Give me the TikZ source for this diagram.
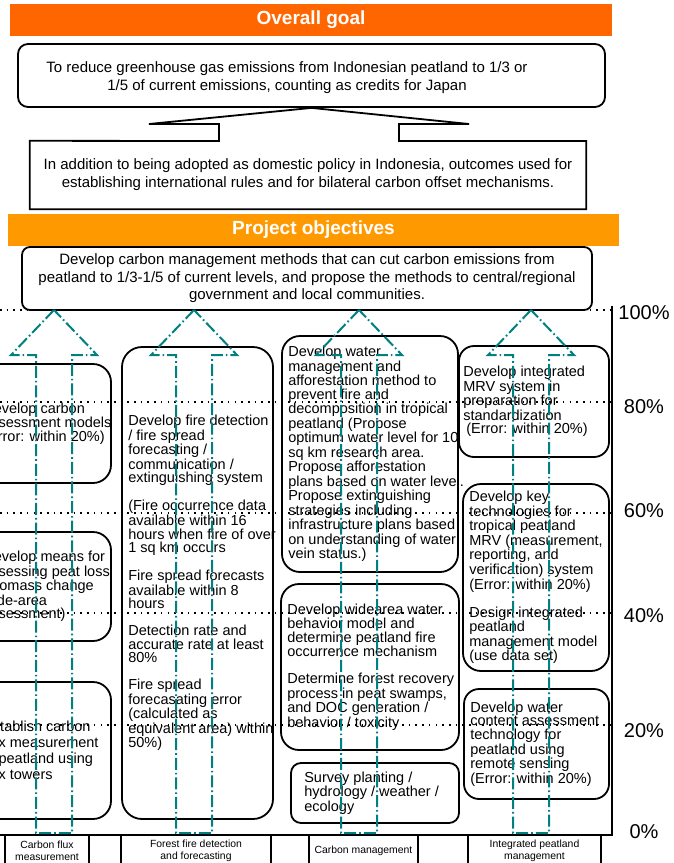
\documentclass[tikz,border=0pt]{standalone}
\usepackage{fontspec}
\setmainfont{Liberation Sans}
\usepackage{tikz}
\usetikzlibrary{positioning}
\definecolor{goalorange}{RGB}{255,102,0}
\definecolor{objorange}{RGB}{255,153,0}
\definecolor{arrowteal}{RGB}{0,128,128}
\newcommand{\gap}{13.5pt}
\tikzset{
    headbar/.style={fill=#1, minimum height=32pt, inner sep=0pt, text=white, font=\fontsize{19}{19}\selectfont\bfseries},
    common/.style={draw, line width=1.8pt, fill=white, inner sep=0pt},
    goalbox/.style={common, rounded corners=10pt},
    goaltext/.style={align=center, inner sep=0pt, font=\fontsize{15}{18.5}\selectfont},
    task/.style={common, rounded corners=#1},
    task/.default=18pt,
    tasktext/.style={align=left, inner sep=0pt, font=\fontsize{14.5}{13.5}\selectfont},
    outline/.style={line width=1.8pt, line join=miter},
    level/.style={line width=1.6pt, dash pattern=on 1.6pt off 5.1pt},
    axis/.style={line width=1.8pt},
    flow/.style={arrowteal, line width=2pt, dash pattern=on 12pt off 3pt on 1.6pt off 3pt},
    pct/.style={anchor=base, inner sep=0pt, font=\fontsize{20}{20}\selectfont},
    area/.style={draw, line width=1.3pt, minimum height=32pt, inner sep=0pt, align=center, font=\fontsize{10.4}{12}\selectfont}
}
\begin{document}
\begin{tikzpicture}[x=1pt, y=-1pt]
    \useasboundingbox (0,0) rectangle (673,863);
    \clip (0,0) rectangle (673,863);

    \node[headbar=goalorange, minimum width=602pt] (overall) at (311,20) {Overall goal};
    \node[goalbox, minimum width=587pt, minimum height=63pt] (goal) at (311.5,75.5) {};
    \node[goaltext] (goal-text) at (287,77.5) {To reduce greenhouse gas emissions from Indonesian peatland to 1/3 or\\1/5 of current emissions, counting as credits for Japan};
    \node[goaltext, font=\fontsize{15}{18}\selectfont, minimum width=556pt, minimum height=68pt] (policy) at (308,175)
        {In addition to being adopted as domestic policy in Indonesia, outcomes used for\\establishing international rules and for bilateral carbon offset mechanisms.};
    \draw[outline] (goal.south) -- (149,124) -| (219,141) -- (policy.north west) |- (policy.south east) |- (399,141) |- (469,124) -- cycle;

    \node[headbar=objorange, minimum width=611pt] (project) at (313.5,230) {Project objectives};
    \node[goalbox, rounded corners=8pt, align=center, minimum width=570pt, minimum height=63pt, font=\fontsize{15}{17.5}\selectfont] (objectives) at (307,278.5)
        {Develop carbon management methods that can cut carbon emissions from\\peatland to 1/3-1/5 of current levels, and propose the methods to central/regional\\government and local communities.};

    \node[task, minimum width=134pt, minimum height=119pt] (carbon-models) at (44,423.5) {};
    \node[tasktext, font=\fontsize{14.5}{14}\selectfont, right=7pt of carbon-models.west] (carbon-models-text)
        {Develop carbon\\assessment models\\(Error: within 20\%)};
    \node[task, minimum width=134pt, minimum height=109pt] (peat-loss) at (44,586.5) {};
    \node[tasktext, right=7pt of peat-loss.west] (peat-loss-text)
        {Develop means for\\assessing peat loss\\(biomass change\\wide-area\\assessment)};
    \node[task, minimum width=134pt, minimum height=137pt] (flux) at (44,750.5) {};
    \node[tasktext, font=\fontsize{14.5}{16}\selectfont, right=7pt of flux.west] (flux-text)
        {Establish carbon\\flux measurement\\in peatland using\\flux towers};

    \node[task=20pt, minimum width=151pt, minimum height=472pt] (fire) at (197.5,583) {};
    \node[tasktext, right=7pt of fire.west] (fire-text)
        {Develop fire detection\\/ fire spread\\forecasting /\\communication /\\extinguishing system\\[\gap]
         (Fire occurrence data\\available within 16\\hours when fire of over\\1 sq km occurs\\[\gap]
         Fire spread forecasts\\available within 8\\hours\\[\gap]
         Detection rate and\\accurate rate at least\\80\%\\[\gap]
         Fire spread\\forecasating error\\(calculated as\\equivalent area) within\\50\%)};

    \node[task, minimum width=176pt, minimum height=236pt] (water) at (370,454) {};
    \node[tasktext, right=7pt of water.west] (water-text)
        {Develop water\\management and\\afforestation method to\\prevent fire and\\decomposition in tropical\\peatland (Propose\\optimum water level for 10\\sq km research area.\\Propose afforestation\\plans based on water level.\\Propose extinguishing\\strategies including\\infrastructure plans based\\on understanding of water\\vein status.)};
    \node[task, minimum width=178pt, minimum height=166pt] (behavior) at (370,667) {};
    \node[tasktext, right=7pt of behavior.west] (behavior-text)
        {Develop widearea water\\behavior model and\\determine peatland fire\\occurrence mechanism\\[\gap]
         Determine forest recovery\\process in peat swamps,\\and DOC generation /\\behavior / toxicity};
    \node[task=10pt, minimum width=168pt, minimum height=60pt] (survey) at (375,793) {};
    \node[tasktext, right=14pt of survey.west] (survey-text)
        {Survey planting /\\hydrology / weather /\\ecology};

    \node[task=15pt, minimum width=150pt, minimum height=111pt] (mrv) at (534,401.5) {};
    \node[tasktext, right=5pt of mrv.west] (mrv-text)
        {Develop integrated\\MRV system in\\preparation for\\standardization\\\hspace{3pt}(Error: within 20\%)};
    \node[task, minimum width=146pt, minimum height=187pt] (key-tech) at (536,577.5) {};
    \node[tasktext, right=7pt of key-tech.west] (key-tech-text)
        {Develop key\\technologies for\\tropical peatland\\MRV (measurement,\\reporting, and\\verification) system\\(Error: within 20\%)\\[\gap]
         Design integrated\\peatland\\management model\\(use data set)};
    \node[task=15pt, minimum width=145pt, minimum height=110pt] (remote) at (536.5,744) {};
    \node[tasktext, right=7pt of remote.west] (remote-text)
        {Develop water\\content assessment\\technology for\\peatland using\\remote sensing\\(Error: within 20\%)};

    \draw[level] (0,310) -- (612,310) (0,402) -- (612,402) (0,513) -- (612,513)
        (0,613) -- (612,613) (0,725) -- (612,725);
    \draw[axis] (612,306) -- (612,835) -- (0,835);

    \node[pct] (p100) at (644,319) {100\%};
    \node[pct] (p80) at (644,413) {80\%};
    \node[pct] (p60) at (644,517) {60\%};
    \node[pct] (p40) at (644,622) {40\%};
    \node[pct] (p20) at (644,737) {20\%};
    \node[pct] (p0) at (644,838) {0\%};

    \node[area, minimum width=84pt] (flux-area) at (47,851) {Carbon flux\\measurement};
    \node[area, minimum width=150pt] (fire-area) at (196,851) {Forest fire detection\\and forecasting};
    \node[area, minimum width=109pt] (carbon-area) at (363.5,851) {Carbon management};
    \node[area, minimum width=133pt] (peat-area) at (534.5,851) {Integrated peatland\\management};

    \coordinate (flux-tip) at (54,310);
    \coordinate (fire-tip) at (194,310);
    \coordinate (carbon-tip) at (359,310);
    \coordinate (peat-tip) at (531,310);
    \draw[flow] (flux-tip) -- ++(-43,45) -- ++(25,0) -- ++(0,478) -- ++(36,0) -- ++(0,-478) -- ++(25,0) -- cycle;
    \draw[flow] (fire-tip) -- ++(-43,45) -- ++(25,0) -- ++(0,478) -- ++(36,0) -- ++(0,-478) -- ++(25,0) -- cycle;
    \draw[flow] (carbon-tip) -- ++(-43,45) -- ++(25,0) -- ++(0,478) -- ++(36,0) -- ++(0,-478) -- ++(25,0) -- cycle;
    \draw[flow] (peat-tip) -- ++(-43,45) -- ++(25,0) -- ++(0,478) -- ++(36,0) -- ++(0,-478) -- ++(25,0) -- cycle;
\end{tikzpicture}
\end{document}
